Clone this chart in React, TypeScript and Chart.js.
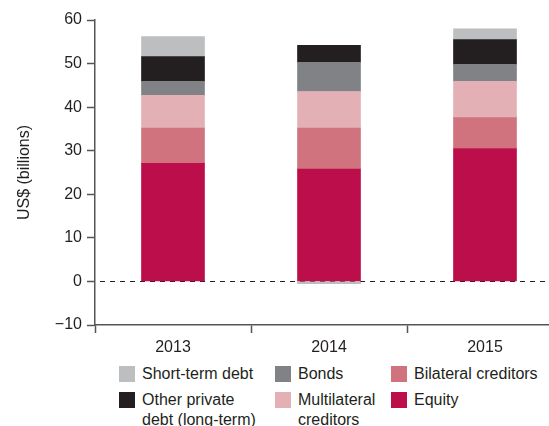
import React, { useEffect, useRef } from "react";
import { Chart, registerables } from "chart.js";
Chart.register(...registerables);

const categories = ["2013", "2014", "2015"];
const equity = [27.1, 25.8, 30.5];
const bilateral = [8.1, 9.4, 7.1];
const multilateral = [7.5, 8.4, 8.3];
const bonds = [3.2, 6.7, 3.9];
const otherPrivate = [5.7, 3.9, 5.7];
const shortTerm = [4.6, -0.5, 2.5];
const yMin = -10;
const yMax = 60;
const yStep = 10;
const yTitle = "US$ (billions)";

const COLORS = {
  equity: "#bb0e4b",
  bilateral: "#d0737e",
  multilateral: "#e3b1b5",
  bonds: "#808285",
  otherPrivate: "#231f20",
  shortTerm: "#bcbec0",
};

const FONT = "'Liberation Sans', Arial, Helvetica, sans-serif";
const TEXT = "#231f20";

const legendItems = [
  { lines: ["Short-term debt"], color: COLORS.shortTerm, x: 119, y: 366 },
  { lines: ["Bonds"], color: COLORS.bonds, x: 275, y: 366 },
  { lines: ["Bilateral creditors"], color: COLORS.bilateral, x: 391, y: 366 },
  { lines: ["Other private", "debt (long-term)"], color: COLORS.otherPrivate, x: 119, y: 392 },
  { lines: ["Multilateral", "creditors"], color: COLORS.multilateral, x: 275, y: 392 },
  { lines: ["Equity"], color: COLORS.equity, x: 391, y: 392 },
];

const zeroLine = {
  id: "zeroLine",
  beforeDatasetsDraw(chart: any) {
    const { ctx, chartArea, scales } = chart;
    const y = Math.round(scales.y.getPixelForValue(0)) + 0.5;
    ctx.save();
    ctx.strokeStyle = TEXT;
    ctx.lineWidth = 1;
    ctx.setLineDash([5, 5]);
    ctx.beginPath();
    ctx.moveTo(chartArea.left + 5, y);
    ctx.lineTo(chartArea.right, y);
    ctx.stroke();
    ctx.restore();
  },
};

export default function App() {
  const ref = useRef<HTMLCanvasElement>(null);
  useEffect(() => {
    if (!ref.current) return;
    const mk = (label: string, data: number[], color: string) => ({
      label,
      data,
      backgroundColor: color,
      borderWidth: 0,
      barThickness: 63,
    });
    const chart = new Chart(ref.current, {
      type: "bar",
      data: {
        labels: categories,
        datasets: [
          mk("Equity", equity, COLORS.equity),
          mk("Bilateral creditors", bilateral, COLORS.bilateral),
          mk("Multilateral creditors", multilateral, COLORS.multilateral),
          mk("Bonds", bonds, COLORS.bonds),
          mk("Other private debt (long-term)", otherPrivate, COLORS.otherPrivate),
          mk("Short-term debt", shortTerm, COLORS.shortTerm),
        ],
      },
      plugins: [zeroLine],
      options: {
        responsive: false,
        animation: false,
        layout: { padding: { top: 20, right: 12, left: 0, bottom: 0 } },
        plugins: { legend: { display: false }, tooltip: { enabled: false } },
        scales: {
          x: {
            stacked: true,
            grid: {
              offset: true,
              drawOnChartArea: false,
              drawTicks: true,
              tickLength: 8,
              tickColor: "#555555",
              tickWidth: 1.5,
            },
            border: { color: "#555555", width: 1.5 },
            ticks: { color: TEXT, font: { family: FONT, size: 16 }, padding: 5 },
            afterFit: (s: any) => {
              s.height = 35;
            },
          },
          y: {
            stacked: true,
            min: yMin,
            max: yMax,
            ticks: {
              stepSize: yStep,
              color: TEXT,
              font: { family: FONT, size: 16 },
              padding: 5,
              callback: (v: any) => String(v).replace("-", "\u2212"),
            },
            grid: {
              drawOnChartArea: false,
              drawTicks: true,
              tickLength: 8,
              tickColor: "#555555",
              tickWidth: 1.5,
            },
            border: { color: "#555555", width: 1.5 },
            title: {
              display: true,
              text: yTitle,
              color: TEXT,
              font: { family: FONT, size: 16 },
              padding: { top: 15, bottom: 0 },
            },
            afterFit: (s: any) => {
              s.width = 95;
            },
          },
        },
      },
    });
    return () => chart.destroy();
  }, []);

  return (
    <div
      style={{
        position: "fixed",
        left: 0,
        top: 0,
        width: 549,
        height: 426,
        overflow: "hidden",
        background: "#fff",
        fontFamily: FONT,
      }}
    >
      <canvas ref={ref} width={575} height={360} style={{ position: "absolute", left: 0, top: 0, width: 575, height: 360 }} />
      {legendItems.map((it, i) => (
        <div key={i}>
          <div
            style={{
              position: "absolute",
              left: it.x,
              top: it.y,
              width: 16,
              height: 16,
              background: it.color,
            }}
          />
          <div
            style={{
              position: "absolute",
              left: it.x + 23,
              top: it.y - 2,
              fontSize: 16,
              lineHeight: "20px",
              color: TEXT,
              whiteSpace: "nowrap",
            }}
          >
            {it.lines.map((l, j) => (
              <div key={j}>{l}</div>
            ))}
          </div>
        </div>
      ))}
    </div>
  );
}
